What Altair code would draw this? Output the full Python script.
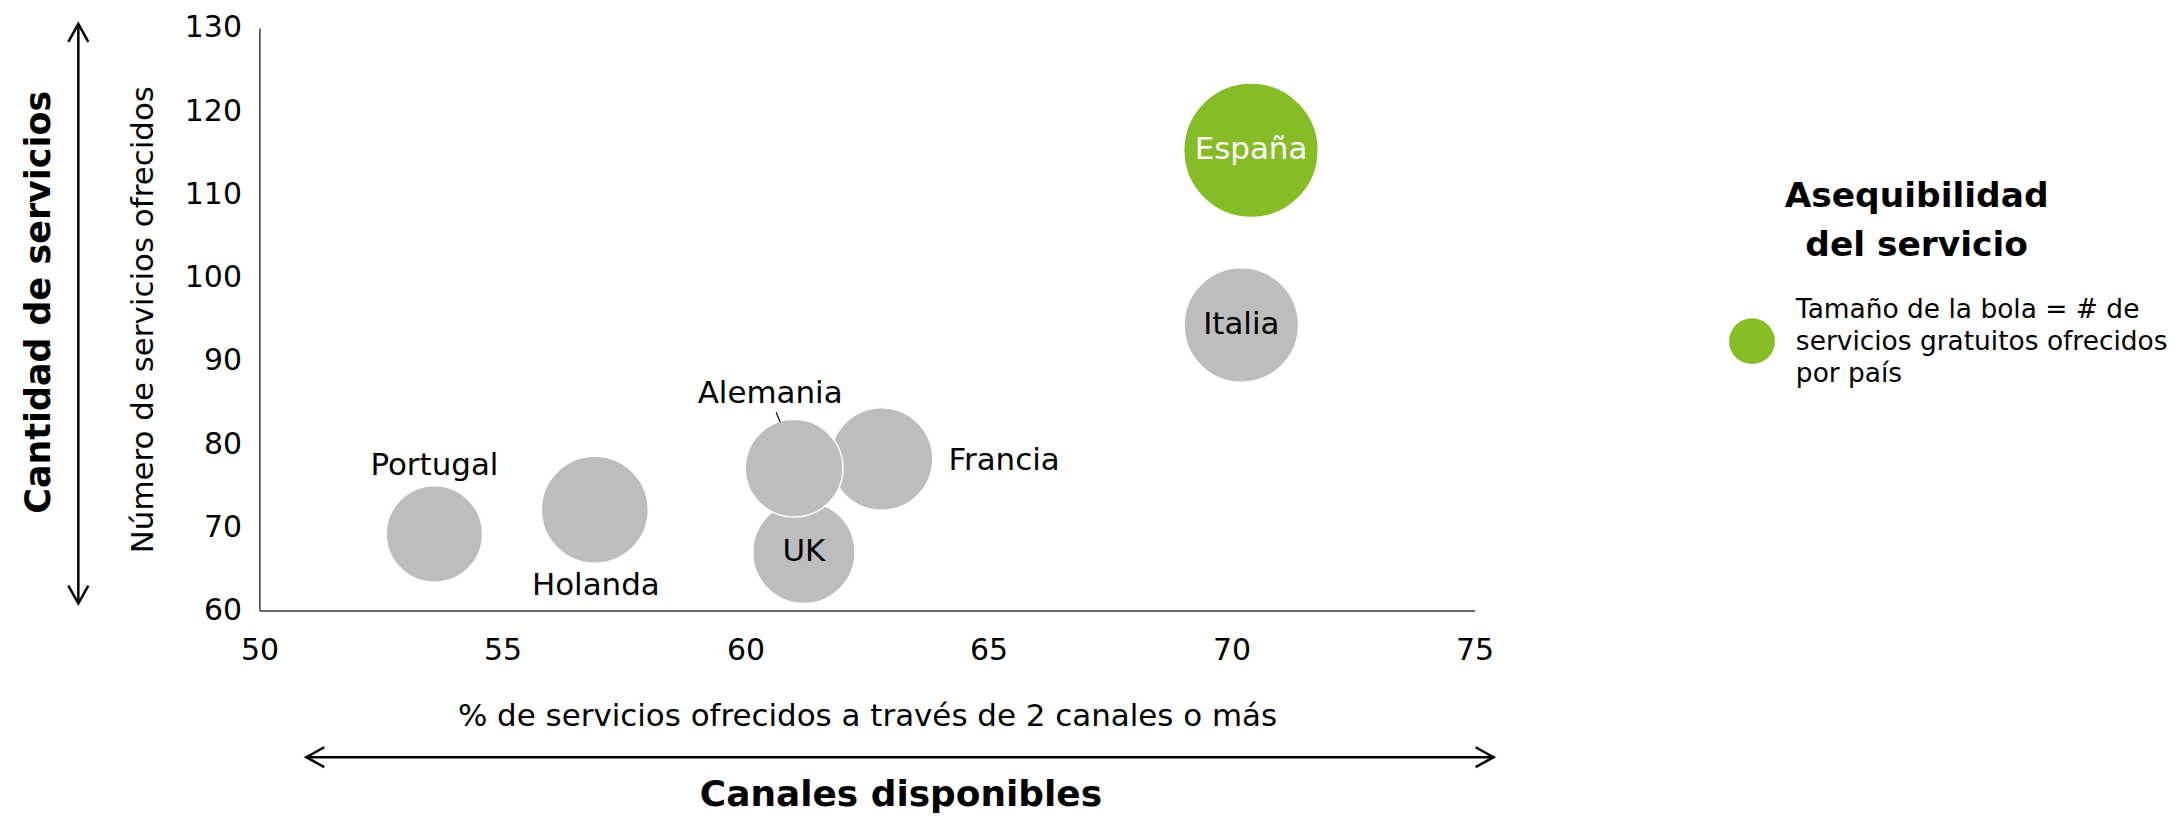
import altair as alt
import pandas as pd

# ---------------- data ----------------
paises = ["Portugal", "Holanda", "UK", "Francia", "Alemania", "Italia", "España"]
canales_pct = [53.6, 56.9, 61.2, 62.8, 61.0, 70.2, 70.4]          # % servicios por 2+ canales
num_servicios = [69.2, 72.1, 67.0, 78.2, 77.1, 94.3, 115.3]        # número de servicios ofrecidos
servicios_gratuitos = [19.5, 24.0, 22.0, 22.0, 20.0, 27.5, 38.0]   # tamaño de la bola
orden = [0, 1, 2, 3, 4, 5, 6]

x_ticks = [50, 55, 60, 65, 70, 75]
y_ticks = [60, 70, 80, 90, 100, 110, 120, 130]

x_title = "% de servicios ofrecidos a través de 2 canales o más"
y_title = "Número de servicios ofrecidos"
outer_y = "Cantidad de servicios"
outer_x = "Canales disponibles"
legend_title = ["Asequibilidad", "del servicio"]
legend_text = ["Tamaño de la bola = # de", "servicios gratuitos ofrecidos", "por país"]

df = pd.DataFrame({
    "pais": paises,
    "canales": canales_pct,
    "servicios": num_servicios,
    "gratuitos": servicios_gratuitos,
    "orden": orden,
})

FONT = "DejaVu Sans"
GREEN = "#86BC25"
GREY = "#BCBDBC"
W, H = 1218, 584

base = alt.Chart(df)

xenc = alt.X(
    "canales:Q",
    scale=alt.Scale(domain=[50, 75], nice=False, zero=False),
    axis=alt.Axis(
        values=x_ticks, title=x_title, grid=False, ticks=False, tickSize=0,
        labelFlush=False, labelOverlap=False,
        labelPadding=25, labelFontSize=30, labelFont=FONT, labelColor="black",
        titleFont=FONT, titleFontSize=31, titleFontWeight="normal", titleColor="black",
        titleX=W / 2, titleY=115, titleBaseline="alphabetic", titleAlign="center",
        domainColor="#3a3a3a", domainWidth=1.5,
    ),
)
yenc = alt.Y(
    "servicios:Q",
    scale=alt.Scale(domain=[60, 130], nice=False, zero=False),
    axis=alt.Axis(
        values=y_ticks, title=y_title, grid=False, ticks=False, tickSize=0,
        labelFlush=False, labelOverlap=False,
        labelPadding=18, labelFontSize=30, labelFont=FONT, labelColor="black",
        titleFont=FONT, titleFontSize=31, titleFontWeight="normal", titleColor="black",
        titleAngle=270, titleX=-107, titleY=H / 2, titleBaseline="alphabetic",
        titleAlign="center", domainColor="#3a3a3a", domainWidth=1.5,
    ),
)

bubbles = base.mark_circle(opacity=1, stroke="white", strokeWidth=1.5).encode(
    x=xenc,
    y=yenc,
    size=alt.Size("gratuitos:Q", scale=alt.Scale(domain=[0, 38], range=[0, 18200]), legend=None),
    color=alt.condition(alt.datum.pais == "España", alt.value(GREEN), alt.value(GREY)),
    order=alt.Order("orden:Q"),
)

# label placement (style, not data)
placements = {
    "Portugal": dict(dx=0, dy=-68, align="center", color="black"),
    "Holanda": dict(dx=1, dy=76, align="center", color="black"),
    "Alemania": dict(dx=-24, dy=-74, align="center", color="black"),
    "Francia": dict(dx=67, dy=2, align="left", color="black"),
    "UK": dict(dx=0, dy=0, align="center", color="black"),
    "Italia": dict(dx=0, dy=0, align="center", color="black"),
    "España": dict(dx=0, dy=0, align="center", color="white"),
}

labels = []
for p, st in placements.items():
    labels.append(
        base.transform_filter(alt.datum.pais == p)
        .mark_text(font=FONT, fontSize=31, baseline="middle", align=st["align"],
                   dx=st["dx"], dy=st["dy"], color=st["color"])
        .encode(x="canales:Q", y="servicios:Q", text="pais:N")
    )

# leader line for Alemania, drawn relative to its bubble
leader = base.transform_filter(alt.datum.pais == "Alemania").mark_point(
    shape="M -0.371 -1.155 L -0.289 -0.948", filled=False, stroke="black",
    strokeWidth=1.2, opacity=1, size=9409,
).encode(x="canales:Q", y="servicios:Q")

one = alt.Chart(pd.DataFrame({"k": [0]}))

ARROW = "M -1.8 -1 L 0 0 L -1.8 1"
arrow_style = dict(shape=ARROW, filled=False, stroke="black", strokeWidth=2.5, opacity=1, size=400)

v_line = one.mark_rule(color="black", strokeWidth=2.5).encode(
    x=alt.value(-181.5), y=alt.value(-3), y2=alt.value(576))
v_up = one.mark_point(angle=270, **arrow_style).encode(x=alt.value(-181.5), y=alt.value(-4))
v_down = one.mark_point(angle=90, **arrow_style).encode(x=alt.value(-181.5), y=alt.value(577))

h_line = one.mark_rule(color="black", strokeWidth=2.5).encode(
    x=alt.value(48), x2=alt.value(1236), y=alt.value(731))
h_left = one.mark_point(angle=180, **arrow_style).encode(x=alt.value(47), y=alt.value(731))
h_right = one.mark_point(angle=0, **arrow_style).encode(x=alt.value(1237), y=alt.value(731))

t_outer_y = one.mark_text(text=outer_y, font=FONT, fontSize=35, fontWeight="bold", angle=270,
                          baseline="alphabetic", align="center", color="black").encode(
    x=alt.value(-210), y=alt.value(275))
t_outer_x = one.mark_text(text=outer_x, font=FONT, fontSize=36, fontWeight="bold",
                          baseline="alphabetic", align="center", color="black").encode(
    x=alt.value(643), y=alt.value(780))

t_leg_title = one.mark_text(text=legend_title, font=FONT, fontSize=34.5, fontWeight="bold",
                            baseline="alphabetic", align="center", lineHeight=49,
                            color="black").encode(x=alt.value(1661), y=alt.value(180))
leg_dot = one.mark_circle(color=GREEN, opacity=1, size=2116).encode(
    x=alt.value(1496), y=alt.value(314))
t_leg = one.mark_text(text=legend_text, font=FONT, fontSize=26.5, baseline="alphabetic",
                      align="left", lineHeight=32, color="black").encode(
    x=alt.value(1540), y=alt.value(291))

chart = alt.layer(
    bubbles, leader, *labels,
    v_line, v_up, v_down, h_line, h_left, h_right,
    t_outer_y, t_outer_x, t_leg_title, leg_dot, t_leg,
).properties(
    width=W, height=H,
    background="white",
    autosize=alt.AutoSizeParams(type="none"),
    padding={"left": 252, "top": 19, "right": 700, "bottom": 202},
).configure_view(stroke="transparent", strokeWidth=0)

chart.save("out.html", embed_options={"renderer": "svg", "actions": False})
